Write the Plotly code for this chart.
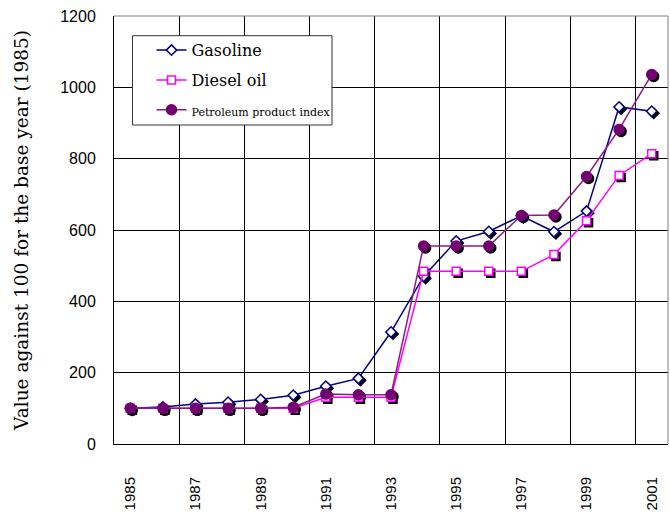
import plotly.graph_objects as go

# Price index series, 1985 = 100
years = list(range(1985, 2002))
gasoline = [100, 104, 112, 117, 125, 137, 162, 184, 314, 470, 569, 596, 640, 595, 653, 945, 933]
diesel = [100, 100, 100, 100, 100, 100, 131, 131, 131, 484, 484, 484, 484, 531, 626, 753, 814]
petroleum = [100, 100, 100, 100, 100, 103, 140, 138, 138, 555, 555, 555, 641, 642, 750, 882, 1036]

x_tickvals = list(range(1985, 2002, 2))
x_ticktext = [str(y) for y in x_tickvals]
y_tickvals = list(range(0, 1201, 200))

W, H = 670, 519
ML, MR, MT, MB = 114, 0, 16, 73
PW = W - ML - MR
PH = H - MT - MB
SH = 2  # drop-shadow offset in px

main_x = [0, (PW - SH) / PW]
main_y = [SH / PH, 1]
shadow_x = [SH / PW, 1]
shadow_y = [0, (PH - SH) / PH]

series = [
    dict(name="Gasoline", y=gasoline, line="#000080", symbol="diamond", size=8,
         fill="white", mline="#000080"),
    dict(name="Diesel oil", y=diesel, line="#FF00FF", symbol="square", size=8,
         fill="white", mline="#FF00FF"),
    dict(name='<span style="font-size:11px">Petroleum product index</span>', y=petroleum,
         line="#8B1A89", symbol="circle", size=10, fill="#730070", mline="#730070"),
]

fig = go.Figure()

# invisible trace so the gridded main axes exist
fig.add_trace(go.Scatter(x=years, y=gasoline, mode="none", showlegend=False,
                         hoverinfo="skip", xaxis="x", yaxis="y"))

# marker shadows
for s in series:
    fig.add_trace(go.Scatter(
        x=years, y=s["y"], mode="markers", showlegend=False, hoverinfo="skip",
        marker=dict(symbol=s["symbol"], size=s["size"], color="#000000",
                    line=dict(color="#000000", width=1.5)),
        xaxis="x2", yaxis="y2"))

# series
for i, s in enumerate(series):
    fig.add_trace(go.Scatter(
        x=years, y=s["y"], mode="lines+markers", name=s["name"], legendgroup=f"g{i}",
        line=dict(color=s["line"], width=1.5),
        marker=dict(symbol=s["symbol"], size=s["size"], color=s["fill"],
                    line=dict(color=s["mline"], width=1.5)),
        xaxis="x3", yaxis="y3"))

xr = [1984.5, 2001.5]
yr = [0, 1200]
hidden = dict(visible=False, showgrid=False, zeroline=False, fixedrange=True)

# legend frame (px from the top-left of the page)
LB_L, LB_R, LB_T, LB_B = 132.5, 332, 35.7, 125

fig.update_layout(
    width=W, height=H,
    margin=dict(l=ML, r=MR, t=MT, b=MB),
    paper_bgcolor="white",
    plot_bgcolor="rgba(0,0,0,0)",
    font=dict(family="Liberation Sans, Arial", color="#000000"),
    xaxis=dict(
        domain=main_x, range=xr, anchor="y",
        tickmode="array", tickvals=x_tickvals, ticktext=x_ticktext,
        tickangle=-90, tickfont=dict(size=15, family="Liberation Sans, Arial"),
        ticks="", ticklabelstandoff=26,
        showgrid=False, zeroline=False,
        showline=True, linecolor="#000000", linewidth=1,
        minor=dict(tickmode="array", tickvals=[y + 0.5 for y in range(1986, 2001, 2)],
                   showgrid=True, gridcolor="#000000", gridwidth=1, ticks=""),
    ),
    yaxis=dict(
        domain=main_y, range=yr, anchor="x",
        tickmode="array", tickvals=y_tickvals,
        tickfont=dict(size=16, family="Liberation Sans, Arial"),
        ticks="", ticklabelstandoff=14,
        showgrid=True, gridcolor="#000000", gridwidth=1, zeroline=False,
        showline=True, linecolor="#000000", linewidth=1,
        title=dict(text="Value against 100 for the base year (1985)",
                   font=dict(family="DejaVu Serif", size=18.5), standoff=26),
        automargin=False,
    ),
    xaxis2=dict(domain=shadow_x, range=xr, anchor="y2", **hidden),
    yaxis2=dict(domain=shadow_y, range=yr, anchor="x2", **hidden),
    xaxis3=dict(domain=main_x, range=xr, anchor="y3", **hidden),
    yaxis3=dict(domain=main_y, range=yr, anchor="x3", **hidden),
    legend=dict(
        x=(LB_L + 19 - ML) / PW, y=(H - MB - (LB_T - 2.5)) / PH,
        xanchor="left", yanchor="top",
        bgcolor="rgba(0,0,0,0)", borderwidth=0,
        font=dict(family="DejaVu Serif", size=16, color="#000000"),
        tracegroupgap=6, itemwidth=30,
    ),
    shapes=[
        dict(type="rect", xref="paper", yref="paper",
             x0=(LB_L - ML) / PW, x1=(LB_R - ML) / PW,
             y0=(H - MB - LB_B) / PH, y1=(H - MB - LB_T) / PH,
             fillcolor="white", line=dict(color="#333333", width=1), layer="above"),
        dict(type="line", xref="x domain", yref="y domain", x0=0, x1=1, y0=1, y1=1,
             line=dict(color="#808080", width=1), layer="above"),
        dict(type="line", xref="x domain", yref="y domain", x0=1, x1=1, y0=0, y1=1,
             line=dict(color="#808080", width=1), layer="above"),
    ],
    showlegend=True,
)

fig.write_html("out.html")
